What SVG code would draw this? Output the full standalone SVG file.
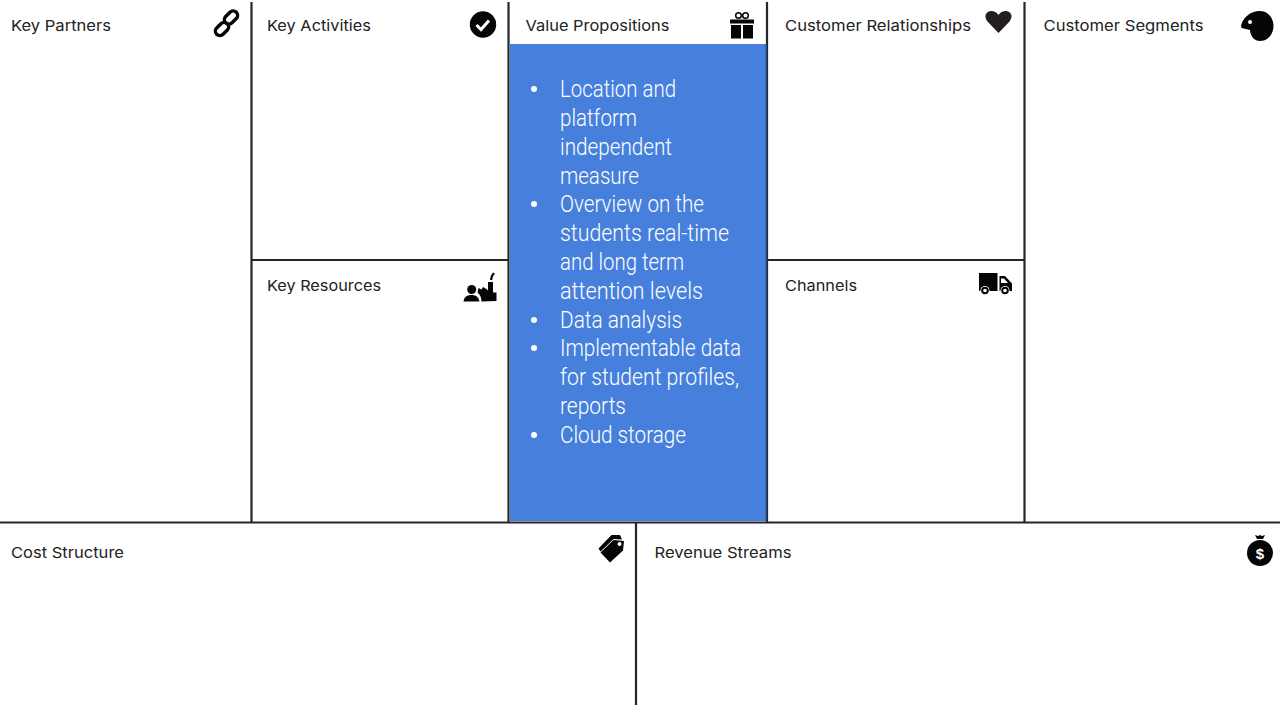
<svg xmlns="http://www.w3.org/2000/svg" width="1280" height="720" viewBox="0 0 1280 720">
<style>
.h{font-family:"Inter","Liberation Sans",sans-serif;font-size:15px;fill:#222}
.b{font-family:"Roboto","Liberation Sans",sans-serif;font-weight:300;font-size:24.5px;fill:#fff}
.l{stroke:#262626;stroke-width:2.2;fill:none}
.i{fill:#050505}
.w{fill:#fff}
</style>
<rect width="1280" height="720" fill="#fff"/>
<g id="connectors">
<path class="l" d="M251.500 2V522M508.500 2V522M767 2V522M1024.500 2V522M0 522.500H1280M252 260H508M768 260H1024M636 522V705"/>
</g>
<g id="key-partners">
<text class="h" x="11" y="31" textLength="100" lengthAdjust="spacingAndGlyphs">Key Partners</text>
<g fill="none" stroke="#050505" stroke-width="3.400">
<rect x="223.500" y="13" width="15" height="9" rx="4.500" transform="rotate(-45 231 17.500)"/>
<rect x="214.500" y="24.500" width="15" height="9" rx="4.500" transform="rotate(-45 222 29)"/>
</g>
</g>
<g id="key-activities">
<text class="h" x="267" y="31" textLength="104" lengthAdjust="spacingAndGlyphs">Key Activities</text>
<circle class="i" cx="483" cy="24.500" r="13.200"/>
<path d="M476.500 25l4.500 4.500 8-9" fill="none" stroke="#fff" stroke-width="3"/>
</g>
<g id="value-propositions">
<rect x="510" y="44" width="256.500" height="477" fill="#4680dc"/>
<path d="M766.200 44V521" stroke="#1c4a94" stroke-width="1.200" fill="none"/>
<text class="h" x="525.500" y="31" textLength="144" lengthAdjust="spacingAndGlyphs">Value Propositions</text>
<g class="i">
<rect x="730" y="19.500" width="24" height="4"/>
<path d="M731 25h10v13.500h-10zM743 25h10v13.500h-10z"/>
</g>
<g fill="none" stroke="#050505" stroke-width="1.500"><circle cx="738.500" cy="15.500" r="2.800"/><circle cx="745.500" cy="15.500" r="2.800"/></g>
<g class="b">
<circle class="w" cx="534" cy="89" r="3"/><circle class="w" cx="534" cy="204" r="3"/><circle class="w" cx="534" cy="320" r="3"/><circle class="w" cx="534" cy="348" r="3"/><circle class="w" cx="534" cy="435" r="3"/>
<text class="b" x="560" y="97" textLength="116" lengthAdjust="spacingAndGlyphs">Location and</text>
<text class="b" x="560" y="126" textLength="77" lengthAdjust="spacingAndGlyphs">platform</text>
<text class="b" x="560" y="155" textLength="112" lengthAdjust="spacingAndGlyphs">independent</text>
<text class="b" x="560" y="184" textLength="79" lengthAdjust="spacingAndGlyphs">measure</text>
<text class="b" x="560" y="212" textLength="144" lengthAdjust="spacingAndGlyphs">Overview on the</text>
<text class="b" x="560" y="241" textLength="169" lengthAdjust="spacingAndGlyphs">students real-time</text>
<text class="b" x="560" y="270" textLength="124" lengthAdjust="spacingAndGlyphs">and long term</text>
<text class="b" x="560" y="299" textLength="143" lengthAdjust="spacingAndGlyphs">attention levels</text>
<text class="b" x="560" y="328" textLength="122" lengthAdjust="spacingAndGlyphs">Data analysis</text>
<text class="b" x="560" y="356" textLength="181" lengthAdjust="spacingAndGlyphs">Implementable data</text>
<text class="b" x="560" y="385" textLength="179" lengthAdjust="spacingAndGlyphs">for student profiles,</text>
<text class="b" x="560" y="414" textLength="66" lengthAdjust="spacingAndGlyphs">reports</text>
<text class="b" x="560" y="443" textLength="126" lengthAdjust="spacingAndGlyphs">Cloud storage</text>
</g>
</g>
<g id="customer-relationships">
<text class="h" x="785" y="31" textLength="186" lengthAdjust="spacingAndGlyphs">Customer Relationships</text>
<path fill="#231f20" d="M998.500 33l-11-11.500c-5-6.500 0-11 4.500-10.500 3 .2 5 2 6.500 4 1.500-2 3.500-3.800 6.500-4 4.500-.5 9.500 4 4.500 10.500z"/>
</g>
<g id="customer-segments">
<text class="h" x="1043.500" y="31" textLength="160" lengthAdjust="spacingAndGlyphs">Customer Segments</text>
<path class="i" d="M1260 11C1268 11 1273.500 18 1273.500 26S1268 41 1260 41C1257 41 1255 40 1253 38C1251 35 1250 33 1250 30L1241.500 28L1241 25.500C1243 18 1250 11 1260 11z"/>
<circle class="w" cx="1250" cy="22" r="2"/>
</g>
<g id="key-resources">
<text class="h" x="267" y="291" textLength="114" lengthAdjust="spacingAndGlyphs">Key Resources</text>
<circle class="i" cx="471.700" cy="289.500" r="4.500"/>
<path class="i" d="M463.500 301.500c.5-4.500 3.500-6.500 8-6.500s7 2 8 6.500z"/>
<path class="i" d="M481.500 301.500c0-4-1.500-7-4-9l1-4.500 3 1.500 1.500-2.500 3.500 2 1.500 1.500v-8.500h5v10.500h3.500v8.500z"/>
<path d="M491 280l1-4 2-3" stroke="#050505" stroke-width="2.200" fill="none"/>
</g>
<g id="channels">
<text class="h" x="785" y="291" textLength="72" lengthAdjust="spacingAndGlyphs">Channels</text>
<path class="i" d="M979 273h18.500v18h-18l-.5-1zM999.500 276h5.500l7 7.500v7.500h-12.500z"/>
<path class="w" d="M1001 278.500h3l4 4.500h-7z"/>
<circle class="w" cx="985" cy="290.500" r="4.500"/><circle class="w" cx="1005" cy="290.500" r="4.500"/>
<circle cx="985" cy="290.500" r="2.800" fill="#fff" stroke="#050505" stroke-width="2"/><circle cx="1005" cy="290.500" r="2.800" fill="#fff" stroke="#050505" stroke-width="2"/>
</g>
<g id="cost-structure">
<text class="h" x="11" y="558" textLength="113" lengthAdjust="spacingAndGlyphs">Cost Structure</text>
<path class="i" d="M598.500 548.500l13-13.500h8.500l2 4.500-8.500-.5-13 12.500z"/>
<path class="i" d="M600.500 552.500l13-12.500 10.500 1-1 9.500-13 12z"/>
<circle class="w" cx="619.500" cy="544" r="2"/>
</g>
<g id="revenue-streams">
<text class="h" x="654.500" y="558" textLength="137" lengthAdjust="spacingAndGlyphs">Revenue Streams</text>
<circle class="i" cx="1260" cy="553" r="13"/>
<path class="i" d="M1255 535l3 1 2-1 2 1 3-1-2 4h-6z"/>
<text x="1260" y="558.500" text-anchor="middle" font-family="Liberation Sans, sans-serif" font-weight="700" font-size="15" fill="#fff">$</text>
</g>
</svg>
